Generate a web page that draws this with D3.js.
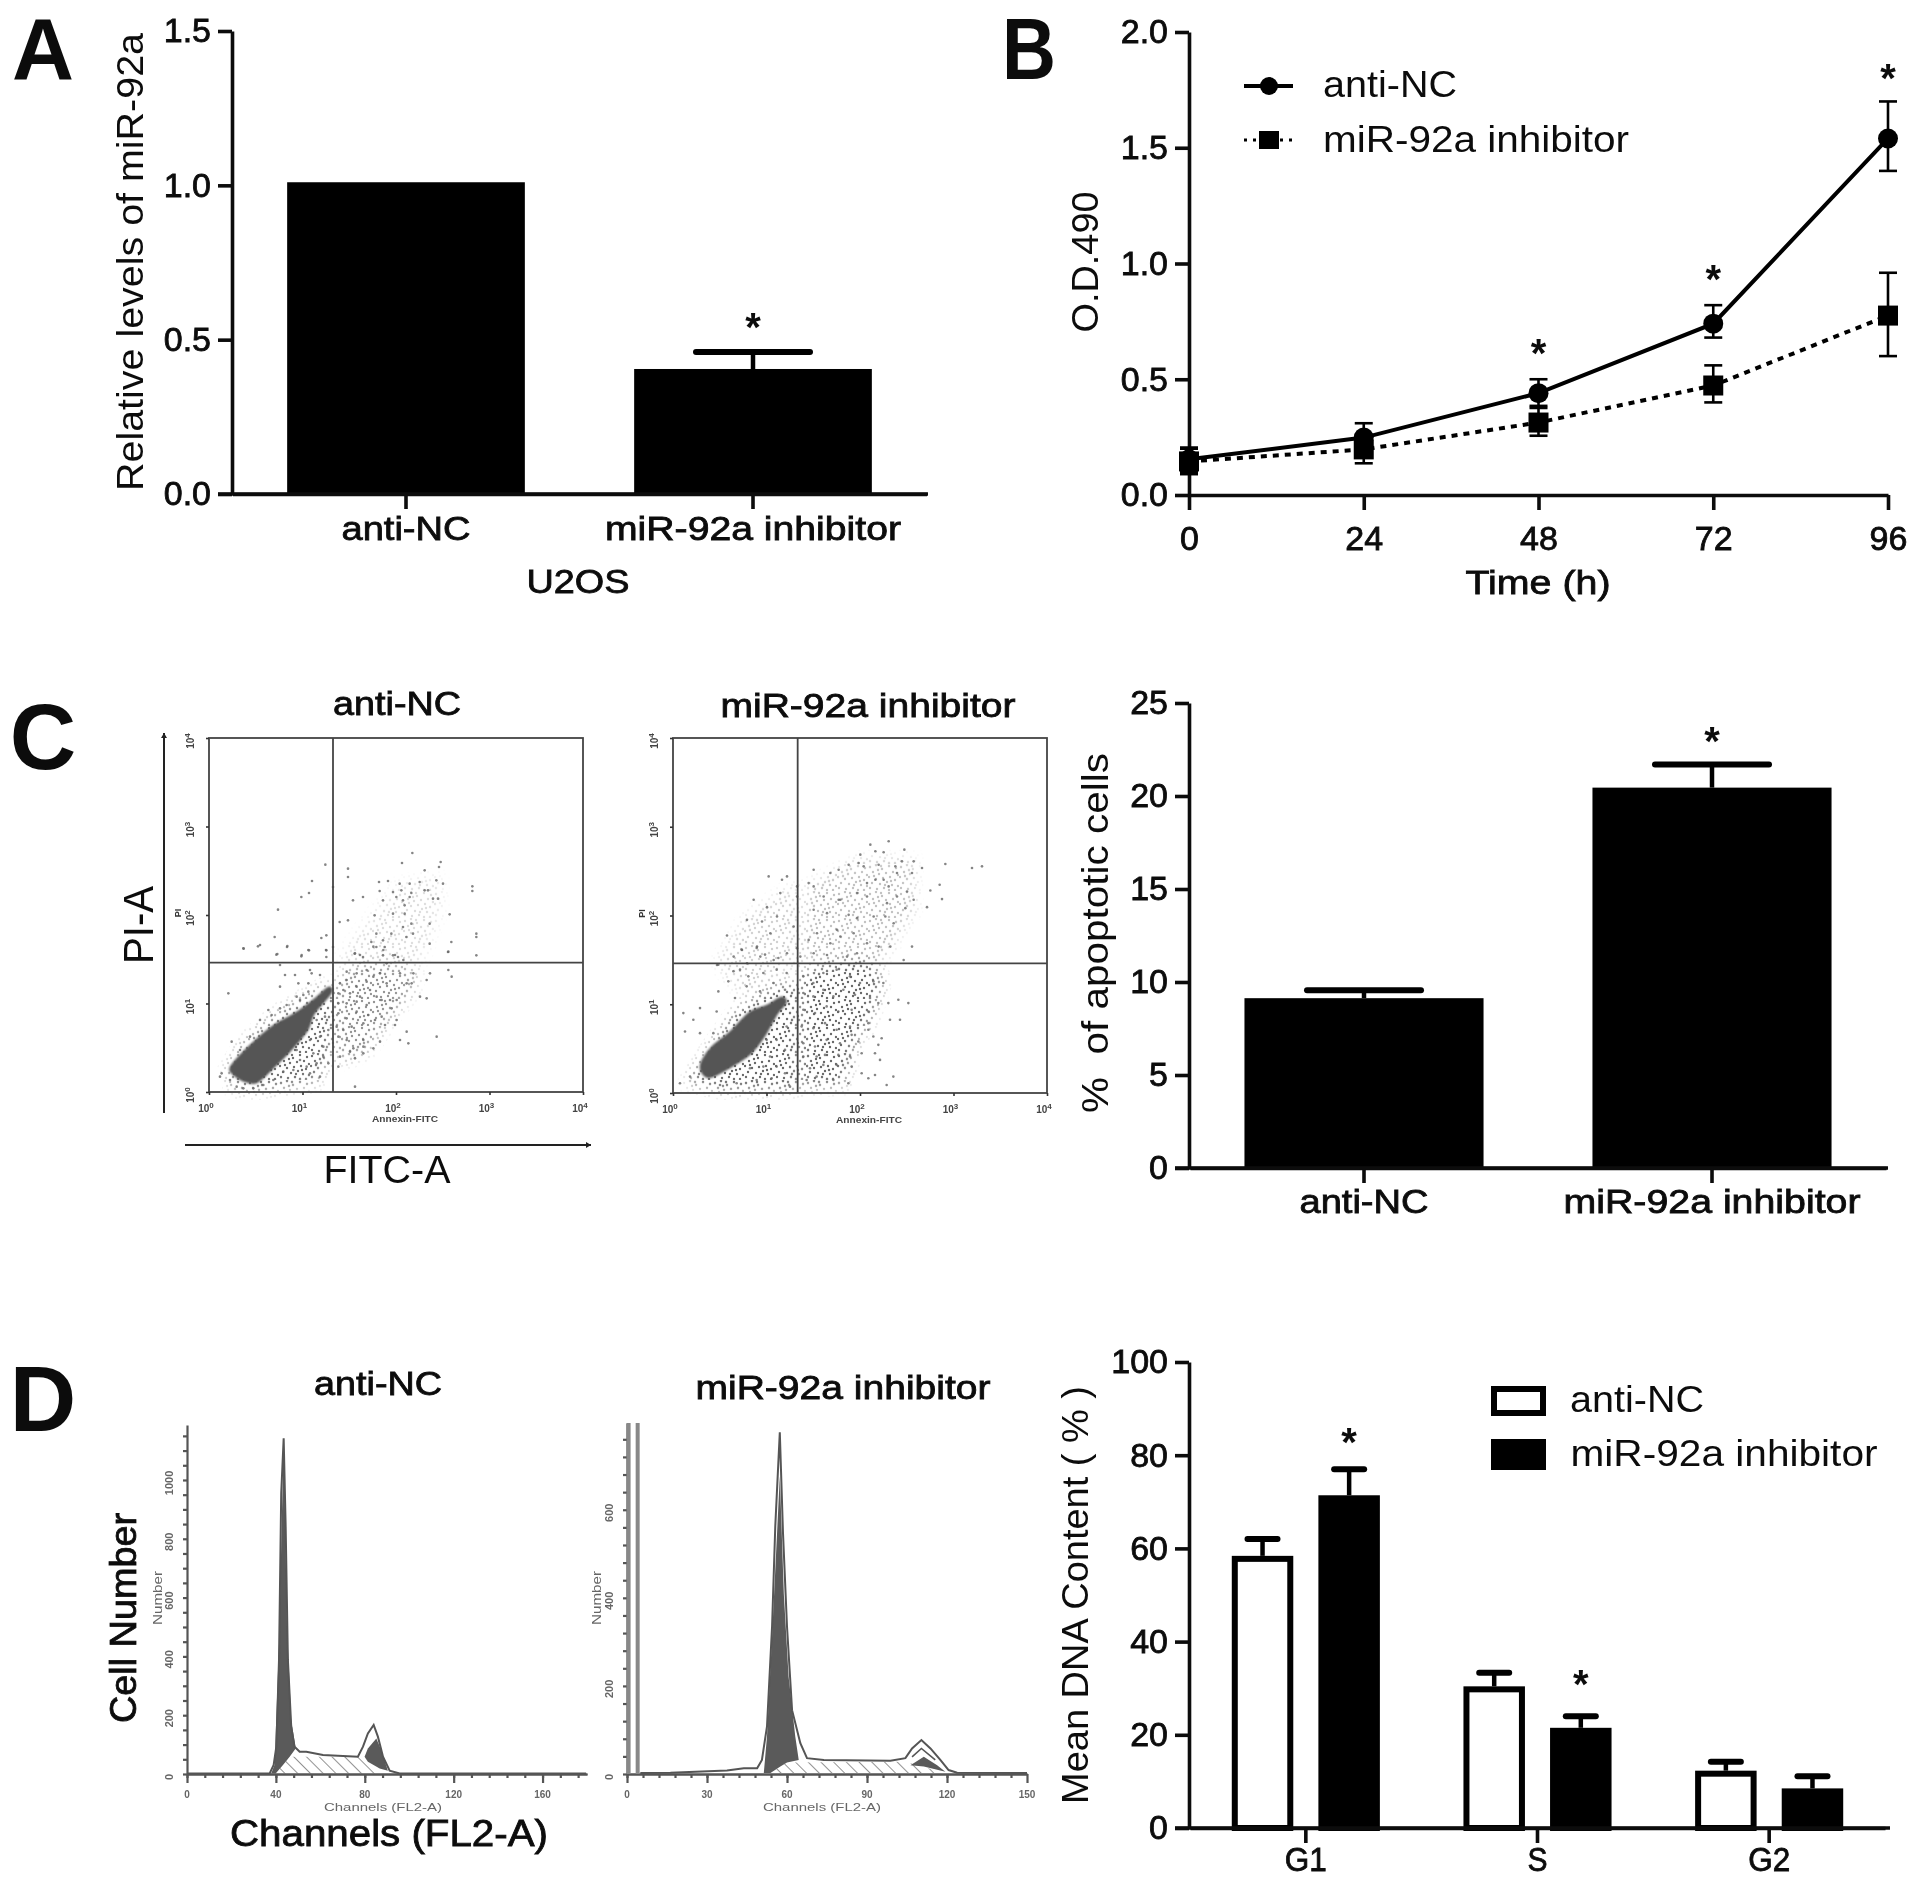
<!DOCTYPE html>
<html>
<head>
<meta charset="utf-8">
<script src="https://cdn.jsdelivr.net/npm/d3@7"></script>
<style>
body { margin: 0; background: #fff; }
svg { display: block; filter: blur(0.6px); font-family: "Liberation Sans", Arial, sans-serif; }
</style>
</head>
<body>
<div id="chart"></div>
<script>
// panel A
var aCats = ["anti-NC", "miR-92a inhibitor"];
var aVals = [1.01, 0.405];
var aErrTop = [null, 0.46];
var aTicks = [0, 0.5, 1.0, 1.5];

// panel B
var bTimes = [0, 24, 48, 72, 96];
var bCtrl = [0.154, 0.248, 0.44, 0.74, 1.54];
var bCtrlHi = [0.205, 0.31, 0.50, 0.82, 1.70];
var bCtrlLo = [0.10, 0.19, 0.385, 0.68, 1.40];
var bInh = [0.145, 0.197, 0.313, 0.473, 0.775];
var bInhHi = [0.20, 0.255, 0.376, 0.56, 0.96];
var bInhLo = [0.09, 0.137, 0.256, 0.40, 0.60];
var bStarTimes = [48, 72, 96];
var bStarVals = [0.63, 0.95, 1.82];
var bTicks = [0, 0.5, 1.0, 1.5, 2.0];

// panel C bars
var cCats = ["anti-NC", "miR-92a inhibitor"];
var cVals = [9.13, 20.45];
var cErrTop = [9.56, 21.7];
var cTicks = [0, 5, 10, 15, 20, 25];

// panel C flow plots, in channels (1122 wide x 1062 high, 4 decades each way)
var flowDecades = [1, 10, 100, 1000, 10000];
var c1Gate = [372, 388];
var c2Gate = [374, 388];
var c1Core = [[68,76],[123,136],[193,196],[263,236],[323,281],[358,311],[363,296],[313,236],[293,186],[243,126],[193,76],[143,31],[103,36],[73,56]];
var c1HaloA = [[53,66],[103,146],[203,236],[313,301],[363,326],[383,256],[363,116],[323,26],[173,6],[73,6]];
var c1HaloB = [[383,326],[423,376],[533,386],[623,366],[613,306],[533,206],[473,116],[383,86]];
var c1HaloC = [[382,385],[472,505],[572,625],[692,645],[692,545],[632,385]];
var c1Points = [[610,717],[579,687],[695,690],[690,675],[647,665],[417,670],[417,645],[349,682],[309,633],[300,597],[277,585],[207,547],[510,630],[537,633],[572,625],[602,625],[632,630],[682,635],[702,625],[790,617],[790,603],[512,603],[552,600],[577,605],[607,597],[647,605],[657,605],[672,580],[687,580],[522,575],[562,585],[582,575],[587,560],[602,585],[462,585],[432,575],[372,615],[392,510],[417,515],[497,530],[552,535],[587,535],[722,533],[662,505],[607,505],[582,495],[802,475],[802,465],[547,475],[502,475],[522,455],[487,450],[502,435],[527,435],[592,465],[612,475],[372,435],[352,470],[337,462],[197,465],[234,435],[104,430],[147,437],[300,425],[352,425],[202,412],[277,407],[352,405],[437,415],[462,405],[522,410],[552,410],[567,405],[662,445],[717,420],[727,450],[802,410],
[103,431],[153,441],[235,438],[205,414],[298,426],[351,426],[278,411],[213,381],[258,351],[228,351],[303,366],[308,356],[333,351],[298,326],[213,316],[268,326],[58,296],[178,246],[188,231],[283,291],[298,301],[263,286],
[68,151],[38,56],[33,46],[93,126],[123,166],[153,216],[213,251],[233,261],[273,276],[318,256],[323,216],[348,226],[333,166],[358,186],[343,136],[313,116],[323,86],[303,56],[333,46],[273,96],[253,66],[223,61],[193,36],[163,21],[63,36],[83,16],[103,11],[133,11],[293,76],[263,126],[303,156],[343,106],[358,86],
[388,296],[393,326],[413,361],[438,416],[453,411],[493,436],[523,426],[558,411],[583,396],[653,336],[633,286],[653,281],[663,356],[718,366],[728,346],[718,421],[593,326],[608,326],[533,326],[513,356],[493,346],[473,331],[443,316],[423,296],[453,286],[483,306],[503,286],[518,276],[543,276],[563,276],[548,251],[518,226],[478,231],[443,241],[413,221],[388,236],[388,266],[413,266],[473,261],[443,271],[533,386],[573,356],[613,356],[473,366],[443,356],[413,336],[403,306],[563,216],[558,201],[528,201],[498,216],[463,206],[428,196],[403,186],[383,196],[388,166],[413,156],[433,131],[463,156],[463,136],[493,131],[513,151],[573,156],[598,146],[593,181],[683,166],[438,101],[463,116],[423,121],[393,106],[388,76],[438,16]];

var c2Core = [[91,99],[121,139],[171,179],[231,239],[281,259],[326,284],[336,269],[311,239],[271,169],[231,119],[171,79],[111,49],[86,69]];
var c2HaloA = [[71,79],[191,249],[321,329],[376,329],[376,9],[141,9],[41,29]];
var c2HaloB = [[381,359],[461,389],[591,399],[631,339],[591,209],[551,159],[511,19],[381,19]];
var c2HaloC = [[382,388],[402,618],[562,698],[722,698],[722,548],[622,388]];
var c2HaloD = [[132,388],[222,528],[372,628],[372,388],[222,280]];
var c2Points = [[647,753],[592,743],[607,723],[632,720],[694,728],[562,713],[557,688],[527,683],[497,668],[472,658],[422,668],[572,678],[617,683],[667,678],[687,693],[722,693],[747,673],[817,685],[897,673],[927,678],[800,623],[772,606],[807,580],[762,556],[717,658],[672,658],[632,638],[607,638],[582,628],[647,618],[672,588],[702,603],[722,578],[697,553],[642,568],[582,588],[552,598],[497,578],[452,588],[422,618],[407,628],[372,618],[327,638],[287,648],[342,648],[372,588],[322,598],[282,556],[242,578],[222,518],[267,513],[312,528],[162,471],[207,428],[252,438],[292,478],[362,498],[422,548],[462,538],[502,578],[527,533],[552,523],[602,528],[637,528],[662,508],[492,488],[432,478],[407,458],[472,448],[502,468],[542,478],[582,448],[617,438],[652,438],[717,438],[692,398],[182,408],[222,388],[302,398],[132,383],[372,433],[382,408],[422,418],[462,413],[522,408],[552,418],[342,418],[262,408],
[206,429],[251,434],[276,414],[316,404],[136,384],[181,364],[201,369],[226,349],[271,359],[311,369],[341,359],[166,334],[136,304],[186,284],[81,254],[131,244],[31,239],[61,219],[36,184],[81,179],[121,179],[221,319],[261,304],[301,329],[336,309],
[391,349],[421,329],[451,359],[491,369],[531,349],[561,329],[601,334],[631,329],[391,299],[421,289],[451,309],[481,289],[511,309],[546,294],[591,284],[646,269],[676,279],[706,269],[616,269],
[391,249],[426,239],[461,259],[496,244],[536,249],[586,244],[651,219],[681,219],[386,199],[421,194],[456,209],[491,189],[531,199],[586,209],[586,189],[601,169],[626,164],[391,149],[426,139],[461,159],[501,149],[536,174],[556,154],[616,144],[391,109],[431,109],[456,114],[496,114],[531,109],[566,119],[606,119],[621,99],[536,79],[491,84],[451,84],[411,74],[566,59],[586,44],[606,54],[661,49],[641,24],[481,39],[526,29],[431,49],[401,39],[336,59],[351,19],[296,44],[251,39],[191,29],[141,24],[51,49],[21,29],[281,159],[311,159],[341,199],[291,109],[336,129],[271,79],[231,74],[311,79]];

// panel D histograms: [channel, count]
var d1Outline = [[0,2],[37.2,2],[39,31],[40.2,93],[41.4,388],[42.4,955],[43.5,1142],[44.4,841],[45.4,388],[46.9,161],[48.4,93],[50.7,76],[53.7,76],[61.2,65],[76.9,59],[79.2,93],[81.4,138],[84,167],[85.9,127],[88.2,59],[91.2,11],[95.7,2],[179.6,2]];
var d1G1 = [[37.9,2],[39.4,31],[41.4,444],[43.5,1142],[45,501],[46.9,184],[48.9,87],[46.2,59],[43.2,31],[39.9,2]];
var d1S = [[39.9,2],[46.2,59],[76.9,59],[80.6,42],[85,2]];
var d1G2 = [[79.9,59],[81.4,87],[85.2,121],[87.4,82],[90.4,11],[86.7,19],[81.4,42]];
var d1Labels = [0, 200, 400, 600, 800, 1000];
var d1XLabels = [0, 40, 80, 120, 160];

var d2Outline = [[5,2],[16.3,3],[37.5,8],[43.8,13],[48.8,13],[50.6,32],[52.5,108],[54.4,335],[55.6,562],[57.3,776],[58.5,547],[60,335],[61.9,145],[65,70],[67.5,36],[73.8,32],[98.8,30],[104.4,36],[106.9,58],[110.4,77],[113.8,58],[117.5,32],[120.6,9],[123.8,3],[150,2]];
var d2G1 = [[51.3,2],[52.5,85],[54.4,312],[57.3,676],[58.8,410],[60.6,221],[63.1,85],[64.4,32],[60,26],[57.5,17],[53.8,2]];
var d2S = [[53.8,2],[60,26],[103.8,28],[109.4,20],[118.8,2]];
var d2G2 = [[106.3,20],[111.3,39],[116.3,20],[119.4,5],[111.3,17]];
var d2G2Fit = [[106.9,39],[110.4,58],[115.6,32]];
var d2Debris = [0.6, 4];
var d2Labels = [0, 200, 400, 600];
var d2XLabels = [0, 30, 60, 90, 120, 150];

// panel D bars
var dCats = ["G1", "S", "G2"];
var dSeries = ["anti-NC", "miR-92a inhibitor"];
var dCtrl = [58.4, 30.4, 12.3];
var dInh = [71.4, 21.5, 8.5];
var dCtrlTop = [62, 33.3, 14.2];
var dInhTop = [77, 24, 11.1];
var dStarSeries = ["G1", "S"];
var dStarVals = [82, 30];
var dTicks = [0, 20, 40, 60, 80, 100];

var width = 1913, height = 1889;
var ink = "#0c0c0c";

var svg = d3.select("#chart").append("svg")
	.attr("width", width)
	.attr("height", height);
svg.append("rect").attr("width", width).attr("height", height).attr("fill", "#fff");

var defs = svg.append("defs");
// hatching for S phase
var hatch = defs.append("pattern").attr("id", "hatch")
	.attr("width", 9).attr("height", 9)
	.attr("patternUnits", "userSpaceOnUse")
	.attr("patternTransform", "rotate(-45)");
hatch.append("line").attr("x1", 0).attr("y1", 0).attr("x2", 0).attr("y2", 9)
	.attr("stroke", "#777").attr("stroke-width", 1.6);
// speckle for the busy part of the flow plots
var speckle = defs.append("pattern").attr("id", "speckle")
	.attr("width", 31).attr("height", 27)
	.attr("patternUnits", "userSpaceOnUse");
[[2,3],[8,1],[14,5],[21,2],[28,4],[5,8],[11,10],[18,9],[25,8],[30,11],[1,13],[8,15],[15,14],[22,13],[27,16],[4,19],[12,20],[19,18],[24,21],[30,22],[2,24],[9,25],[16,24],[21,26],[27,26],[13,2],[6,12],[23,17],[17,21],[10,6]].forEach(function(p){
	speckle.append("circle").attr("cx", p[0]).attr("cy", p[1]).attr("r", 1.2).attr("fill", "#666");
});
defs.append("filter").attr("id", "soft").append("feGaussianBlur").attr("stdDeviation", 1.2);
defs.append("filter").attr("id", "fade").append("feGaussianBlur").attr("stdDeviation", 7);

// text squeezed to the width it has in the picture
function label(g, txt, x, y, size, len, weight, rot, fill){
	var medium = weight == "medium";
	var t = g.append("text")
		.attr("transform", "translate(" + x + "," + y + ")" + (rot ? " rotate(" + rot + ")" : ""))
		.attr("text-anchor", "middle")
		.attr("font-size", size)
		.attr("font-weight", medium ? "normal" : (weight || "normal"))
		.attr("fill", fill || ink)
		.text(txt);
	if(medium) t.attr("stroke", fill || ink).attr("stroke-width", 0.8);
	if(len) t.attr("textLength", len).attr("lengthAdjust", "spacingAndGlyphs");
	return t;
}

function styleAxis(a, sw){
	a.selectAll("path").attr("stroke", ink).attr("stroke-width", sw);
	a.selectAll("line").attr("stroke", ink).attr("stroke-width", sw);
	a.selectAll("text").attr("fill", ink).attr("stroke", ink).attr("stroke-width", 0.8)
		.attr("font-family", "Liberation Sans");
}

function star(g, x, y){
	label(g, "*", x, y, 40, null, "bold");
}

// y axis + x band axis used by panels A, C, D
function barAxes(y, x, x0, xEnd, yTicks, fmt, catLen, catY){
	var ay = svg.append("g").attr("transform", "translate(" + x0 + ",0)")
		.call(d3.axisLeft(y).tickValues(yTicks).tickFormat(fmt).tickSize(14).tickPadding(7).tickSizeOuter(0));
	styleAxis(ay, 3.6);
	ay.selectAll("text").attr("font-size", 34);
	var ax = svg.append("g").attr("transform", "translate(0," + y(0) + ")")
		.call(d3.axisBottom(x).tickSize(15).tickPadding(0).tickSizeOuter(0));
	styleAxis(ax, 3.6);
	ax.selectAll("text").attr("font-size", 33).attr("dy", 0).attr("y", catY - y(0))
		.each(function(d){
			d3.select(this).attr("textLength", catLen[d]).attr("lengthAdjust", "spacingAndGlyphs");
		});
	svg.append("line").attr("x1", x0 - 14).attr("x2", xEnd).attr("y1", y(0)).attr("y2", y(0))
		.attr("stroke", ink).attr("stroke-width", 3.6);
}

function solidBars(cats, vals, tops, x, y){
	cats.forEach(function(c, i){
		svg.append("rect")
			.attr("x", x(c)).attr("y", y(vals[i]))
			.attr("width", x.bandwidth()).attr("height", y(0) - y(vals[i]))
			.attr("fill", "#000");
		if(tops[i] != null){
			var cx = x(c) + x.bandwidth() / 2;
			svg.append("line").attr("x1", cx).attr("x2", cx).attr("y1", y(vals[i])).attr("y2", y(tops[i]))
				.attr("stroke", "#000").attr("stroke-width", 4.5);
			svg.append("line").attr("x1", cx - 57).attr("x2", cx + 57).attr("y1", y(tops[i])).attr("y2", y(tops[i]))
				.attr("stroke", "#000").attr("stroke-width", 6).attr("stroke-linecap", "round");
		}
	});
}

// ---------- panel A
label(svg, "A", 43, 79, 87, 62, "bold");
var ay = d3.scaleLinear().domain([0, 1.5]).range([494, 31]);
var ax = d3.scaleBand().domain(aCats).range([232.5, 926.5]).paddingInner(0.315).paddingOuter(0.1575);
solidBars(aCats, aVals, aErrTop, ax, ay);
barAxes(ay, ax, 232, 928, aTicks, d3.format(".1f"), {"anti-NC": 129, "miR-92a inhibitor": 296}, 540);
star(svg, ax(aCats[1]) + ax.bandwidth() / 2, 341);
label(svg, "U2OS", 578, 593, 34, 103, "medium");
label(svg, "Relative levels of miR-92a", 143, 262, 37, 458, "normal", -90);

// ---------- panel B
label(svg, "B", 1029, 79, 87, 54, "bold");
var by = d3.scaleLinear().domain([0, 2]).range([495, 32]);
var bx = d3.scaleLinear().domain([0, 96]).range([1189, 1888]);

var byAxis = svg.append("g").attr("transform", "translate(1189,0)")
	.call(d3.axisLeft(by).tickValues(bTicks).tickFormat(d3.format(".1f")).tickSize(14).tickPadding(7).tickSizeOuter(0));
styleAxis(byAxis, 3.6);
byAxis.selectAll("text").attr("font-size", 34);
var bxAxis = svg.append("g").attr("transform", "translate(0,495)")
	.call(d3.axisBottom(bx).tickValues(bTimes).tickSize(15).tickPadding(16).tickSizeOuter(0));
styleAxis(bxAxis, 3.6);
bxAxis.selectAll("text").attr("font-size", 34);

var line = d3.line().x(function(d){ return bx(d[0]); }).y(function(d){ return by(d[1]); });
svg.append("path").attr("d", line(d3.zip(bTimes, bInh)))
	.attr("fill", "none").attr("stroke", "#000").attr("stroke-width", 4).attr("stroke-dasharray", "6 6");
svg.append("path").attr("d", line(d3.zip(bTimes, bCtrl)))
	.attr("fill", "none").attr("stroke", "#000").attr("stroke-width", 4);

function errs(hi, lo){
	bTimes.forEach(function(t, i){
		var cx = bx(t);
		svg.append("line").attr("x1", cx).attr("x2", cx).attr("y1", by(hi[i])).attr("y2", by(lo[i]))
			.attr("stroke", "#000").attr("stroke-width", 2.6);
		[hi[i], lo[i]].forEach(function(v){
			svg.append("line").attr("x1", cx - 9).attr("x2", cx + 9).attr("y1", by(v)).attr("y2", by(v))
				.attr("stroke", "#000").attr("stroke-width", 2.6);
		});
	});
}
errs(bCtrlHi, bCtrlLo);
errs(bInhHi, bInhLo);
svg.selectAll(".dotb").data(d3.zip(bTimes, bCtrl)).enter().append("circle")
	.attr("cx", function(d){ return bx(d[0]); })
	.attr("cy", function(d){ return by(d[1]); })
	.attr("r", 10).attr("fill", "#000");
svg.selectAll(".sqb").data(d3.zip(bTimes, bInh)).enter().append("rect")
	.attr("x", function(d){ return bx(d[0]) - 10; })
	.attr("y", function(d){ return by(d[1]) - 10; })
	.attr("width", 20).attr("height", 20).attr("fill", "#000");
bStarTimes.forEach(function(t, i){ star(svg, bx(t), by(bStarVals[i]) + 18); });

svg.append("line").attr("x1", 1244).attr("x2", 1293).attr("y1", 86).attr("y2", 86).attr("stroke", "#000").attr("stroke-width", 4);
svg.append("circle").attr("cx", 1269).attr("cy", 86).attr("r", 9).attr("fill", "#000");
svg.append("line").attr("x1", 1244).attr("x2", 1293).attr("y1", 140).attr("y2", 140).attr("stroke", "#000").attr("stroke-width", 3).attr("stroke-dasharray", "3 6");
svg.append("rect").attr("x", 1259).attr("y", 131).attr("width", 20).attr("height", 18).attr("fill", "#000");
label(svg, "anti-NC", 1390, 97, 36, 134, "normal");
label(svg, "miR-92a inhibitor", 1476, 152, 36, 306, "normal");
label(svg, "Time (h)", 1538, 594, 34, 145, "medium");
label(svg, "O.D.490", 1098, 262, 36, 141, "normal", -90);

// ---------- panel C flow plots
label(svg, "C", 43, 769, 92, null, "bold");

function flowPlot(id, x0, x1, yBottom, yTop, gate, core, halos, pts){
	var fx = d3.scaleLinear().domain([0, 1122]).range([x0, x1]);
	var fy = d3.scaleLinear().domain([0, 1062]).range([yBottom, yTop]);
	var lx = d3.scaleLog().domain([1, 10000]).range([x0, x1]);
	var ly = d3.scaleLog().domain([1, 10000]).range([yBottom, yTop]);
	var poly = d3.line().x(function(d){ return fx(d[0]); }).y(function(d){ return fy(d[1]); }).curve(d3.curveLinearClosed);
	var smooth = d3.line().x(function(d){ return fx(d[0]); }).y(function(d){ return fy(d[1]); }).curve(d3.curveCardinalClosed);

	// speckle fades out at the edge of each busy area
	halos.forEach(function(h, i){
		var m = defs.append("mask").attr("id", id + "m" + i)
			.attr("maskUnits", "userSpaceOnUse")
			.attr("x", 0).attr("y", 0).attr("width", width).attr("height", height);
		m.append("path").attr("d", poly(h[0])).attr("fill", "#fff").attr("filter", "url(#fade)");
		svg.append("path").attr("d", poly(h[0])).attr("stroke", "url(#speckle)").attr("stroke-width", 20)
			.attr("fill", "url(#speckle)").attr("opacity", h[1]).attr("mask", "url(#" + id + "m" + i + ")");
	});
	svg.selectAll(null).data(pts).enter().append("circle")
		.attr("cx", function(d){ return fx(d[0]); })
		.attr("cy", function(d){ return fy(d[1]); })
		.attr("r", 1.3).attr("fill", "#666").attr("opacity", 0.8);
	svg.append("path").attr("d", smooth(core)).attr("fill", "#555").attr("stroke", "#555").attr("stroke-width", 3)
		.attr("filter", "url(#soft)");

	svg.append("rect").attr("x", x0).attr("y", yTop).attr("width", x1 - x0).attr("height", yBottom - yTop)
		.attr("fill", "none").attr("stroke", "#444").attr("stroke-width", 1.8);
	svg.append("line").attr("x1", fx(gate[0])).attr("x2", fx(gate[0])).attr("y1", yTop).attr("y2", yBottom)
		.attr("stroke", "#444").attr("stroke-width", 1.8);
	svg.append("line").attr("x1", x0).attr("x2", x1).attr("y1", fy(gate[1])).attr("y2", fy(gate[1]))
		.attr("stroke", "#444").attr("stroke-width", 1.8);

	// log ticks, short ones for the minor values
	var tx = svg.append("g").attr("transform", "translate(0," + yBottom + ")")
		.call(d3.axisBottom(lx).ticks(4).tickFormat("").tickSize(3).tickSizeOuter(0));
	var tl = svg.append("g").attr("transform", "translate(" + x0 + ",0)")
		.call(d3.axisLeft(ly).ticks(4).tickFormat("").tickSize(3).tickSizeOuter(0));
	[tx, tl].forEach(function(a){
		a.select(".domain").remove();
		a.selectAll("line").attr("stroke", "#333").attr("stroke-width", 1.6);
	});

	flowDecades.forEach(function(v, i){
		var t = label(svg, "10", lx(v) - 3, yBottom + 20, 10, null, "bold", null, "#444");
		t.append("tspan").attr("dy", -4).attr("font-size", 8).text(i);
		var r = label(svg, "10", x0 - 15, ly(v) + 3, 10, null, "bold", -90, "#444");
		r.append("tspan").attr("dy", -4).attr("font-size", 8).text(i);
	});
	label(svg, "Annexin-FITC", (x0 + x1) / 2 + 9, yBottom + 30, 9, 66, "bold", null, "#444");
	label(svg, "PI", x0 - 28, (yBottom + yTop) / 2 - 2, 9, null, "bold", -90, "#333");
}
flowPlot("c1", 209, 583, 1092, 738, c1Gate, c1Core, [[c1HaloA, 0.95], [c1HaloB, 0.7], [c1HaloC, 0.22]], c1Points);
flowPlot("c2", 673, 1047, 1093, 738, c2Gate, c2Core, [[c2HaloA, 1], [c2HaloB, 1], [c2HaloC, 0.4], [c2HaloD, 0.3]], c2Points);

label(svg, "anti-NC", 397, 715, 33, 128, "medium");
label(svg, "miR-92a inhibitor", 868, 717, 33, 295, "medium");
label(svg, "PI-A", 153, 925, 42, 78, "normal", -90);
label(svg, "FITC-A", 387, 1183, 39, 127, "normal");

function arrow(x1, y1, x2, y2){
	svg.append("line").attr("x1", x1).attr("x2", x2).attr("y1", y1).attr("y2", y2)
		.attr("stroke", "#222").attr("stroke-width", 2);
	var a = Math.atan2(y2 - y1, x2 - x1), s = 5;
	svg.append("path").attr("fill", "#222").attr("d",
		"M" + x2 + "," + y2 +
		"L" + (x2 - s * Math.cos(a) + s * 0.6 * Math.sin(a)) + "," + (y2 - s * Math.sin(a) - s * 0.6 * Math.cos(a)) +
		"L" + (x2 - s * Math.cos(a) - s * 0.6 * Math.sin(a)) + "," + (y2 - s * Math.sin(a) + s * 0.6 * Math.cos(a)) + "Z");
}
arrow(164, 1113, 164, 733);
arrow(185, 1145, 591, 1145);

// ---------- panel C bars
var cy = d3.scaleLinear().domain([0, 25]).range([1168, 703]);
var cx = d3.scaleBand().domain(cCats).range([1190, 1886]).paddingInner(0.313).paddingOuter(0.1565);
solidBars(cCats, cVals, cErrTop, cx, cy);
barAxes(cy, cx, 1189, 1888, cTicks, d3.format("d"), {"anti-NC": 129, "miR-92a inhibitor": 297}, 1213);
star(svg, cx(cCats[1]) + cx.bandwidth() / 2, 755);
label(svg, "%\u00a0\u00a0of apoptotic cells", 1108, 933, 37, 360, "normal", -90);

// ---------- panel D histograms
label(svg, "D", 43, 1431, 92, null, "bold");

function histo(x0, x1, yTop, yBase, xMax, yMax, outline, g1, s, g2, yLabels, xLabels, xMinor, yMinor){
	var hx = d3.scaleLinear().domain([0, xMax]).range([x0, x1]);
	var hy = d3.scaleLinear().domain([0, yMax]).range([yBase, yTop]);
	var path = d3.line().x(function(d){ return hx(d[0]); }).y(function(d){ return hy(d[1]); });
	svg.append("path").attr("d", path(s) + "Z").attr("fill", "url(#hatch)");
	svg.append("path").attr("d", path(g1) + "Z").attr("fill", "#5a5a5a");
	svg.append("path").attr("d", path(g2) + "Z").attr("fill", "#5a5a5a");
	svg.append("path").attr("d", path(outline)).attr("fill", "none").attr("stroke", "#555").attr("stroke-width", 2);

	var tl = svg.append("g").attr("transform", "translate(" + x0 + ",0)")
		.call(d3.axisLeft(hy).tickValues(d3.range(0, yMax, yMinor)).tickFormat("").tickSize(4).tickSizeOuter(0));
	var tb = svg.append("g").attr("transform", "translate(0," + yBase + ")")
		.call(d3.axisBottom(hx).tickValues(d3.range(0, xMax, xMinor)).tickFormat("").tickSize(4).tickSizeOuter(0));
	var tbBig = svg.append("g").attr("transform", "translate(0," + yBase + ")")
		.call(d3.axisBottom(hx).tickValues(xLabels).tickFormat("").tickSize(9).tickSizeOuter(0));
	[tl, tb, tbBig].forEach(function(a){
		a.selectAll("path").attr("stroke", "#555").attr("stroke-width", 2.2);
		a.selectAll("line").attr("stroke", "#555").attr("stroke-width", 2.2);
	});
	yLabels.forEach(function(v){ label(svg, v, x0 - 14, hy(v) + 3, 11, null, "bold", -90, "#666"); });
	xLabels.forEach(function(v){ label(svg, v, hx(v), yBase + 24, 10, null, "bold", null, "#666"); });
	return {x: hx, y: hy, line: path};
}
var h1 = histo(187, 587, 1425, 1774, 180, 1187, d1Outline, d1G1, d1S, d1G2, d1Labels, d1XLabels, 8, 50);
var h2 = histo(627, 1027, 1423, 1774, 150, 797, d2Outline, d2G1, d2S, d2G2, d2Labels, d2XLabels, 6, 40);
d2Debris.forEach(function(c){
	svg.append("line").attr("x1", h2.x(c)).attr("x2", h2.x(c)).attr("y1", 1423).attr("y2", 1774)
		.attr("stroke", "#888").attr("stroke-width", 4);
});
svg.append("path").attr("d", h2.line(d2G2Fit)).attr("fill", "none").attr("stroke", "#555").attr("stroke-width", 1.6);

label(svg, "anti-NC", 378, 1395, 33, 128, "medium");
label(svg, "miR-92a inhibitor", 843, 1399, 33, 295, "medium");
label(svg, "Number", 162, 1598, 12, 54, "normal", -90, "#666");
label(svg, "Number", 601, 1598, 12, 54, "normal", -90, "#666");
label(svg, "Channels (FL2-A)", 383, 1811, 11, 118, "normal", null, "#666");
label(svg, "Channels (FL2-A)", 822, 1811, 11, 118, "normal", null, "#666");
label(svg, "Channels (FL2-A)", 389, 1846, 36, 318, "medium");
label(svg, "Cell Number", 136, 1618, 36, 210, "medium", -90);

// ---------- panel D bars
var dy = d3.scaleLinear().domain([0, 100]).range([1828, 1362]);
var dx0 = d3.scaleBand().domain(dCats).range([1190, 1885]).paddingInner(0.2).paddingOuter(0.1);
var dx1 = d3.scaleBand().domain(dSeries).range([0, dx0.bandwidth()]).paddingInner(0.29).paddingOuter(0.215);

dCats.forEach(function(c, i){
	dSeries.forEach(function(s, j){
		var v = j == 0 ? dCtrl[i] : dInh[i];
		var top = j == 0 ? dCtrlTop[i] : dInhTop[i];
		var bx0 = dx0(c) + dx1(s), bw = dx1.bandwidth(), mid = bx0 + bw / 2;
		svg.append("line").attr("x1", mid).attr("x2", mid).attr("y1", dy(v)).attr("y2", dy(top))
			.attr("stroke", "#000").attr("stroke-width", 4.5);
		svg.append("line").attr("x1", mid - 15).attr("x2", mid + 15).attr("y1", dy(top)).attr("y2", dy(top))
			.attr("stroke", "#000").attr("stroke-width", 6).attr("stroke-linecap", "round");
		svg.append("rect")
			.attr("x", bx0 + 3).attr("y", dy(v) + 3)
			.attr("width", bw - 6).attr("height", dy(0) - dy(v) - 3)
			.attr("fill", j == 0 ? "#fff" : "#000")
			.attr("stroke", "#000").attr("stroke-width", 6);
	});
});
barAxes(dy, dx0, 1189, 1890, dTicks, d3.format("d"), {"G1": 42, "S": 20, "G2": 42}, 1871);
dStarSeries.forEach(function(c, i){
	star(svg, dx0(c) + dx1(dSeries[1]) + dx1.bandwidth() / 2, dy(dStarVals[i]) + 10);
});
svg.append("rect").attr("x", 1494).attr("y", 1389).attr("width", 49).attr("height", 24)
	.attr("fill", "#fff").attr("stroke", "#000").attr("stroke-width", 6);
svg.append("rect").attr("x", 1491).attr("y", 1439).attr("width", 55).attr("height", 31).attr("fill", "#000");
label(svg, "anti-NC", 1637, 1412, 36, 134, "normal");
label(svg, "miR-92a inhibitor", 1724, 1466, 36, 307, "normal");
label(svg, "Mean DNA Content ( % )", 1088, 1595, 37, 418, "normal", -90);
</script>
</body>
</html>
